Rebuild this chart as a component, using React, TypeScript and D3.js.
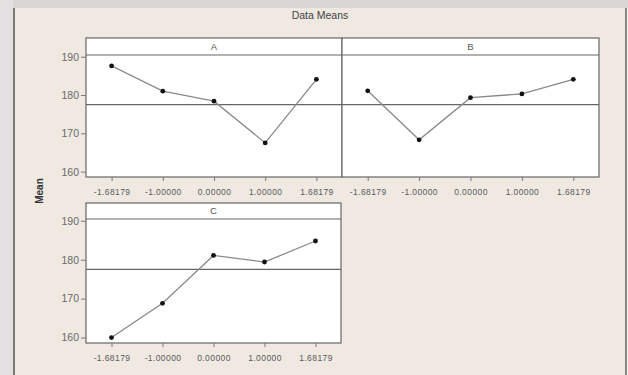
import React, { useEffect, useRef } from "react";
import * as d3 from "d3";

// factor levels (coded units) and data means per factor
const levels = ["-1.68179", "-1.00000", "0.00000", "1.00000", "1.68179"];
const meansA = [187.6, 181.0, 178.4, 167.5, 184.1];
const meansB = [181.1, 168.3, 179.3, 180.3, 184.1];
const meansC = [160.0, 168.8, 181.1, 179.4, 184.8];
const grandMean = 177.5;
const yTicks = [160, 170, 180, 190];
const yDomain = [158.6, 190.45];

const App = () => {
  const svgRef = useRef<SVGSVGElement>(null);

  useEffect(() => {
    const svg = d3.select(svgRef.current);
    svg.selectAll("*").remove();

    const W = 628;
    const H = 375;

    // screenshot frame
    svg.append("rect").attr("x", 0).attr("y", 0).attr("width", W).attr("height", H).attr("fill", "#efe9e2");
    svg.append("rect").attr("x", 0).attr("y", 0).attr("width", W).attr("height", 8).attr("fill", "#d9d6d6");
    svg.append("rect").attr("x", 0).attr("y", 0).attr("width", 13).attr("height", H).attr("fill", "#e2e0e0");
    svg.append("rect").attr("x", 13).attr("y", 8).attr("width", 2).attr("height", H).attr("fill", "#7a7877");
    svg.append("rect").attr("x", 625).attr("y", 8).attr("width", 2).attr("height", H).attr("fill", "#8a8786");
    svg.append("rect").attr("x", 627).attr("y", 8).attr("width", 1).attr("height", H).attr("fill", "#f4f2f2");

    svg.append("text")
      .attr("x", 320).attr("y", 19)
      .attr("text-anchor", "middle")
      .attr("font-family", "Liberation Sans, Arial, sans-serif")
      .attr("font-size", 10.5)
      .attr("fill", "#444")
      .text("Data Means");

    svg.append("text")
      .attr("transform", "translate(43,191) rotate(-90)")
      .attr("text-anchor", "middle")
      .attr("font-family", "Liberation Sans, Arial, sans-serif")
      .attr("font-size", 10)
      .attr("font-weight", "bold")
      .attr("fill", "#333")
      .text("Mean");

    const panels = [
      { name: "A", values: meansA, x0: 86, x1: 342, top: 38, head: 55, bottom: 177, yAxis: true },
      { name: "B", values: meansB, x0: 342, x1: 599, top: 38, head: 55, bottom: 177, yAxis: false },
      { name: "C", values: meansC, x0: 86, x1: 341, top: 203, head: 219, bottom: 343, yAxis: true },
    ];

    panels.forEach((p) => {
      const g = svg.append("g");
      const x = d3.scalePoint().domain(levels).range([p.x0, p.x1]).padding(0.5);
      const y = d3.scaleLinear().domain(yDomain).range([p.bottom, p.head]);

      g.append("rect")
        .attr("x", p.x0).attr("y", p.top)
        .attr("width", p.x1 - p.x0).attr("height", p.bottom - p.top)
        .attr("fill", "#fff")
        .attr("stroke", "#666").attr("stroke-width", 1.2);
      g.append("line")
        .attr("x1", p.x0).attr("x2", p.x1).attr("y1", p.head).attr("y2", p.head)
        .attr("stroke", "#666").attr("stroke-width", 1.2);
      g.append("text")
        .attr("x", (p.x0 + p.x1) / 2).attr("y", p.head - 5)
        .attr("text-anchor", "middle")
        .attr("font-family", "Liberation Sans, Arial, sans-serif")
        .attr("font-size", 9.5).attr("fill", "#555")
        .text(p.name);

      // grand mean reference line
      g.append("line")
        .attr("x1", p.x0).attr("x2", p.x1)
        .attr("y1", y(grandMean)).attr("y2", y(grandMean))
        .attr("stroke", "#666").attr("stroke-width", 1.2);

      const line = d3.line<number>().x((d, i) => x(levels[i])!).y((d) => y(d));
      g.append("path")
        .attr("d", line(p.values))
        .attr("fill", "none")
        .attr("stroke", "#8a8a8a").attr("stroke-width", 1.3);
      g.selectAll(".pt")
        .data(p.values)
        .join("circle")
        .attr("cx", (d, i) => x(levels[i])!)
        .attr("cy", (d) => y(d))
        .attr("r", 2.4)
        .attr("fill", "#111");

      const xa = g.append("g").attr("transform", `translate(0,${p.bottom})`)
        .call(d3.axisBottom(x).tickSize(4).tickSizeOuter(0));
      xa.select(".domain").remove();
      xa.selectAll("line").attr("stroke", "#777");
      xa.selectAll("text")
        .attr("font-family", "Liberation Sans, Arial, sans-serif")
        .attr("font-size", 8.5).attr("fill", "#5a5a5a").attr("dy", "1.25em")
        .attr("letter-spacing", 0.4);

      if (p.yAxis) {
        const ya = g.append("g").attr("transform", `translate(${p.x0},0)`)
          .call(d3.axisLeft(y).tickValues(yTicks).tickSize(5).tickSizeOuter(0));
        ya.select(".domain").remove();
        ya.selectAll("line").attr("stroke", "#777");
        ya.selectAll("text")
          .attr("font-family", "Liberation Sans, Arial, sans-serif")
          .attr("font-size", 10.5).attr("fill", "#6a6a6a").attr("x", -7);
      }
    });
  }, []);

  return (
    <svg
      ref={svgRef}
      width={628}
      height={375}
      style={{ position: "absolute", left: 0, top: 0, display: "block" }}
    />
  );
};

export default App;
